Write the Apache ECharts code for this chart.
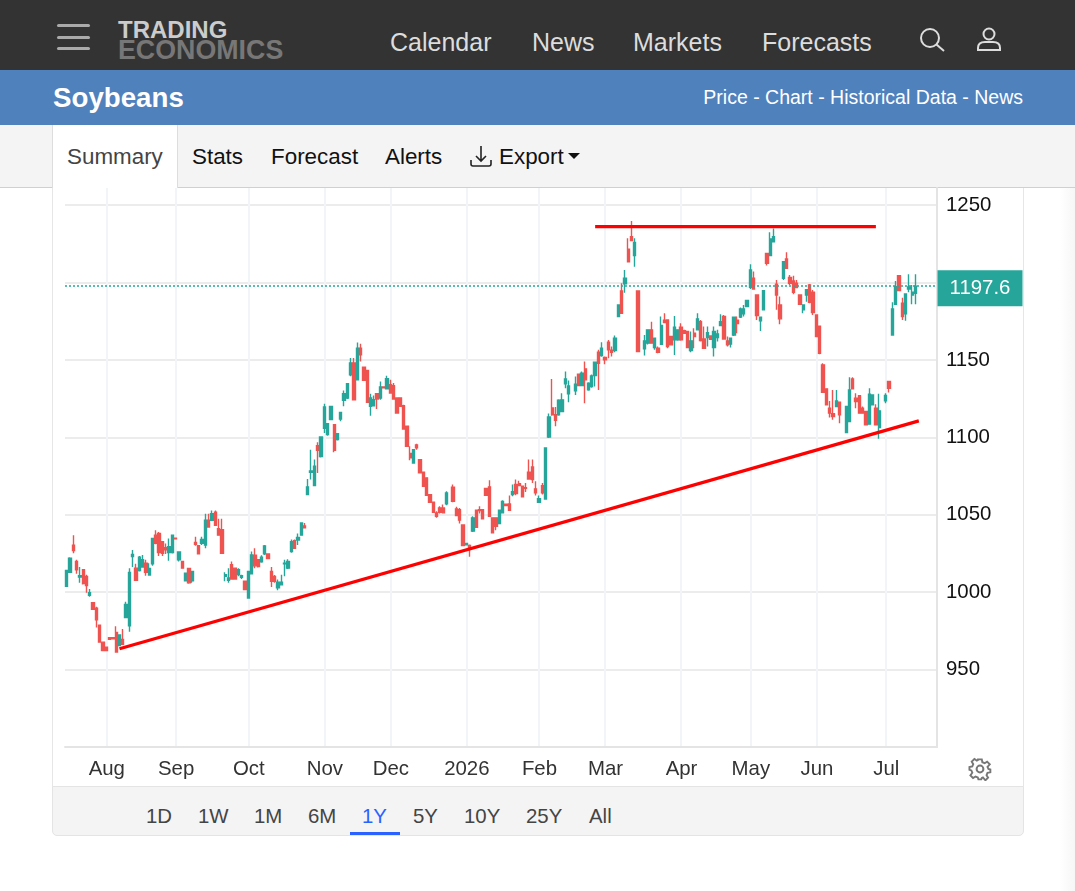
<!DOCTYPE html>
<html><head><meta charset="utf-8"><title>Soybeans</title>
<script src="https://cdn.jsdelivr.net/npm/echarts@6/dist/echarts.min.js"></script>
<style>
html,body{margin:0;padding:0;background:#fff;width:1075px;height:891px;overflow:hidden;font-family:"Liberation Sans",Arial,sans-serif}
.a{position:absolute;white-space:nowrap}
#chart{position:absolute;left:0;top:0;width:1075px;height:891px}
.nav{top:27px;font-size:25px;line-height:30px;color:#ddd}
.tab{top:143px;font-size:22.4px;line-height:28px;color:#111}
.rng{top:804px;font-size:20.4px;line-height:24px;color:#444}
</style></head><body>
<div class="a" style="left:1060px;top:188px;width:15px;height:703px;background:linear-gradient(to right,#fff,#f6f6f6)"></div>
<div class="a" style="left:0;top:0;width:1075px;height:70px;background:#333"></div>
<div class="a" style="left:57px;top:24px;width:33px;height:3px;background:#aaa;border-radius:2px"></div>
<div class="a" style="left:57px;top:36px;width:33px;height:3px;background:#aaa;border-radius:2px"></div>
<div class="a" style="left:57px;top:47px;width:33px;height:3px;background:#aaa;border-radius:2px"></div>
<div class="a" style="left:118px;top:18px;font-size:24px;line-height:24px;font-weight:700;color:#ccc">TRADING</div>
<div class="a" style="left:118px;top:38px;font-size:26.8px;line-height:24px;font-weight:700;color:#777">ECONOMICS</div>
<div class="a nav" style="left:390px">Calendar</div>
<div class="a nav" style="left:532px">News</div>
<div class="a nav" style="left:633px">Markets</div>
<div class="a nav" style="left:762px">Forecasts</div>
<svg class="a" style="left:918px;top:26px" width="30" height="28" viewBox="0 0 30 28" fill="none" stroke="#ddd" stroke-width="2"><circle cx="12" cy="12" r="9"/><line x1="18.5" y1="18.5" x2="26" y2="25"/></svg>
<svg class="a" style="left:975px;top:26px" width="28" height="26" viewBox="0 0 28 26" fill="none" stroke="#ddd" stroke-width="2"><circle cx="14" cy="8" r="5.5"/><path d="M3 24v-2c0-4 3-6 7-6h8c4 0 7 2 7 6v2z"/></svg>
<div class="a" style="left:0;top:70px;width:1075px;height:55px;background:#4f81bd"></div>
<div class="a" style="left:53px;top:82px;font-size:27.7px;line-height:32px;font-weight:700;color:#fff">Soybeans</div>
<div class="a" style="right:52px;top:85px;font-size:19.5px;line-height:24px;color:#fff">Price - Chart - Historical Data - News</div>
<div class="a" style="left:0;top:125px;width:1075px;height:62px;background:#f4f4f4;border-bottom:1px solid #d0d0d0"></div>
<div class="a" style="left:52px;top:125px;width:124px;height:63px;background:#fff;border-left:1px solid #ddd;border-right:1px solid #ddd"></div>
<div class="a tab" style="left:67px;color:#444">Summary</div>
<div class="a tab" style="left:192px">Stats</div>
<div class="a tab" style="left:271px">Forecast</div>
<div class="a tab" style="left:385px">Alerts</div>
<svg class="a" style="left:469px;top:145px" width="24" height="24" viewBox="0 0 24 24" fill="none" stroke="#222" stroke-width="1.6"><path d="M12 1v15M7 11l5 5 5-5M2 15v4q0 2 2 2h16q2 0 2-2v-4"/></svg>
<div class="a tab" style="left:499px">Export</div>
<div class="a" style="left:568px;top:153px;width:0;height:0;border-left:6px solid transparent;border-right:6px solid transparent;border-top:6px solid #111"></div>
<div class="a" style="left:52px;top:188px;width:1px;height:599px;background:#e6e6e6"></div>
<div class="a" style="left:1023px;top:188px;width:1px;height:599px;background:#e6e6e6"></div>
<div class="a" style="left:52px;top:786px;width:970px;height:48px;background:#f4f4f4;border:1px solid #e4e4e4;border-radius:0 0 5px 5px"></div>
<div class="a rng" style="left:146px">1D</div>
<div class="a rng" style="left:198px">1W</div>
<div class="a rng" style="left:254px">1M</div>
<div class="a rng" style="left:308px">6M</div>
<div class="a rng" style="left:362px;color:#2962ff">1Y</div>
<div class="a" style="left:350px;top:832px;width:50px;height:3px;background:#2962ff"></div>
<div class="a rng" style="left:413px">5Y</div>
<div class="a rng" style="left:464px">10Y</div>
<div class="a rng" style="left:526px">25Y</div>
<div class="a rng" style="left:589px">All</div>
<div id="chart"></div>
<svg class="a" style="left:968px;top:757px" width="24" height="24" viewBox="0 0 24 24" fill="none" stroke="#777" stroke-width="2"><circle cx="12" cy="12" r="3.4"/><path d="M10 2h4l.6 3 2.4 1 2.6-1.600 2.800 2.800L20 9.800l1 2.200 2 .6v3l-3 .6-1 2.400 1.600 2.600-2.800 2.800L15.200 21l-1.200.6-.6 1.400h-3l-.6-2-2.400-1-2.600 1.600-2.800-2.800L4 16l-1-2.400-2-.6V10l3-.6 1-2.400L3.400 4.400 6.200 1.600 8.800 3.200 10 2.600z" transform="translate(0.5 0.5) scale(0.95)"/></svg>
<script>
const slotCount = 264;
const tickSlots = [12,33,55,78,98,121,143,163,186,207,227,248];
const tickLabels = ['Aug','Sep','Oct','Nov','Dec','2026','Feb','Mar','Apr','May','Jun','Jul'];
const lastPrice = 1197.6;
const supportLine = [[16,963.5],[258,1110.6]];
const resistanceLine = [[160,1236],[245,1236]];

const opens = [
1003.8,1012.8,1030.4,1019.8,1009.8,1014.5,1010.2,997.9,993.2,989.6,
978.7,967.7,964.5,970.6,970.6,974,965.5,969.4,983.6,978.3,
1023,1015.5,1014,1016.2,1018.7,1011.1,1018.3,1036.8,1037.9,1032.6,
1028.7,1025.5,1025.5,1034.9,1020.9,1019.8,1007.4,1015.3,1007.4,1032.1,
1030,1031.5,1030.4,1046.4,1046.4,1051.7,1040.9,1040.4,1010.2,1007.7,
1017.7,1015.5,1011.3,1009.6,1007,996.2,1011.9,1023.8,1020.9,1019.6,
1024.7,1024.7,1013.4,1010.2,1002.8,1004.7,1018.3,1015.5,1026.2,1033.2,
1033.6,1036.8,1042.8,1063,1077.4,1068.8,1094.6,1087.5,1105.8,1101.7,
1111.4,1108.2,1098.5,1111.8,1123.9,1125.4,1140.4,1148,1137.2,1157.6,
1145.2,1143.2,1120,1120.4,1128.2,1125.4,1132.5,1131.4,1134,1133.3,
1125.4,1125.4,1120.4,1107.1,1089.5,1083.4,1095,1085.6,1077.4,1073.8,
1063,1058.1,1051.2,1054.4,1054.4,1057,null,1067.7,1053.8,1053.3,
1043.4,1030.5,1030.1,1039.4,1052.9,1053.3,1053.3,1066.9,1068,1048,
1048,1044.3,1051.2,1056.8,1057,1063,1069.5,1070.1,1068.4,1067.5,
1077.4,1080.9,1066.7,1058.1,1068.8,1060.2,1100.2,1118.9,1114.6,1114.6,
1116.7,1134.5,1128.1,null,1130,1140.8,1133.4,1144.2,1130.6,1132.8,
1139.9,1154.9,1152.8,1151.5,1161.4,1156.2,1156,1178,1194.5,1199.2,
1221.4,1229.6,1217.3,1194.5,null,1157.1,1160.8,1169.4,1158,1157.5,
1160.1,1175.6,1175.8,1165.1,1162.9,1162.9,1171.1,1168.9,1168.3,1156,
1167.2,1169.4,1174.7,1163.5,1164.4,1165.5,1158,1164.4,1172.2,1178,
1162.3,1160.3,1166.1,1175.6,1177.7,1179.7,1184.4,1196.9,1202.7,1191.9,
1175.2,1182.3,1218.8,1217.3,1226.3,1198.8,1185.5,1202.7,1215.2,1203.3,
1201,1199.5,1191.9,1182.3,1191.9,1198.4,1193.7,1179,1171.7,1146.8,
1131.3,1118.8,1115.2,1119.9,1122.7,null,1103.1,1110.2,1137.7,1125.3,
1126.8,1118.8,1116.7,1108.5,1121,1118.8,1106.3,null,1123.5,1136,
1166.1,1185.9,1204.4,1186.6,1179.7,1195.8,1191.9,1193];

const closes = [
1014,1021.9,1026.8,1014.5,1010.6,1005.5,1004.3,999.6,988.9,982.1,
967.7,962.3,962.3,969.6,969.8,961.3,972.3,966.4,992.1,1012.8,
1024.3,1007.7,1022.6,1020.9,1012.8,1015.3,1034.7,1031.5,1025.5,1025.1,
1027.4,1029.4,1036.8,1034.5,1026,1015.5,1012.3,1006,1013.4,1030.9,
1024.7,1034,1046.4,1042.1,1050.6,1043.2,1036.8,1025.1,1011.3,1009.1,
1008.5,1008.5,1014.5,1010.6,1001.7,1013.4,1024,1017,1016.6,1022.6,
1029.8,1021.7,1007,1007,1006.4,1006.4,1018.7,1019.8,1032.6,1028.3,
1035.3,1044.7,1041.5,1068,1078.3,1081.3,1091.6,1100.2,1119.6,1108.8,
1120,1091.6,1102.4,1116.1,1128.2,1134.6,1148,1124.3,1157.6,1153.3,
1136.8,1122.6,1125.4,1124.3,1124.7,1132.5,1132,1137.8,1128.6,1124.7,
1115.7,1120,1105.4,1094.2,1086.7,1092,1093.3,1077,1068.4,1062.6,
1058.1,1051.6,1049,1051.6,1051.2,1064.1,null,1058.7,1049.5,1046.5,
1030.1,1031.4,1028.8,1048,1041.9,1052.7,1047.3,1062.6,1049,1038.3,
1042.6,1052.9,1058.5,1055.9,1052.9,1064.9,1063.7,1068.8,1061.5,1067.1,
1073.1,1072.7,1064.1,1060.4,1064.1,1093.1,1113.1,1114.6,1111,1123.9,
1124.2,1137.7,1133.2,null,1134.3,1133.4,1141.4,1137.1,1134.9,1139.7,
1148.5,1147.8,1157.5,1150,1156.5,1154.9,1164,1185.5,1180.1,1202.7,
1213.4,1227,1225.9,1155.4,null,1162.3,1169.4,1160.8,1164,1154.9,
1172.2,1174.1,1158.6,1159.7,1171.1,1169.4,1162.9,1167.2,1158,1162.3,
1165.1,1176.5,1162.5,1157.5,1167.6,1163.3,1168.3,1166.8,1174.7,1163.5,
1159.7,1164,1177.5,1173.4,1182.9,1182.9,1188.3,1208.1,1195.8,1178.6,
1177.5,1194.7,1212.4,1228.1,1229.6,1191.9,1176.5,1213.4,1209.1,1199.5,
1193.7,1196.7,1185.9,1185.5,1195.4,1187.2,1180.5,1165.1,1154.3,1129.1,
1121,1115.6,1113.4,1123.5,1114.5,null,1119.9,1130.6,1131.3,1123.1,
1115.6,1115.6,1108.1,1127.8,1127.4,1108.1,1117.1,null,1127,1131.7,
1182.9,1197.3,1194.7,1178,1192.6,1197.1,1193.7,1197.6];

const lows = [
1003.4,1012.8,1025.1,1011.9,1006,1005,999.6,997,988.5,977.2,
967.7,962,962,969.4,969.4,961,965.3,966.2,983.4,974.5,
1016.2,1007.5,1013.4,1016,1010.6,1010.6,1017,1031,1023.4,1023.4,
1024.7,1020.2,1025,1034.3,1019.8,1015.3,1007,1005.5,1006,1030,
1024.5,1030.4,1028.3,1042,1046,1043,1036.6,1024.7,1007,1006,
1008.1,1008.3,1010.2,1008.5,1001.5,996,1011.5,1015.5,1016,1019,
1024,1021.5,1003.4,1006,1001.3,1004.3,1010.2,1015,1025.5,1028,
1030.4,1036.5,1041.3,1062.6,1072.7,1068.6,1077,1087,1102.8,1101,
1111,1090.3,1098,1110.3,1120,1124.7,1139.4,1123.9,1137,1149,
1136.6,1122.4,1114,1120,1118.3,1124.3,1131.8,1131.2,1128.2,1124.3,
1115.5,1119.6,1105,1094,1085.2,1083.2,1092,1076.8,1068,1062.4,
1058,1051.4,1048,1050.8,1051,1056.1,null,1058.1,1049,1044.3,
1030,1030.2,1022.8,1038.9,1041.7,1050.8,1047,1062.4,1048.6,1038,
1040,1044,1051,1055.7,1052.7,1061.9,1062.6,1068.6,1061.3,1064.7,
1072.7,1070.5,1062.4,1058,1063,1060,1099.6,1114,1107.1,1114,
1116.5,1131.7,1122.7,null,1127.4,1133,1133,1122,1130,1132,
1132.8,1130.6,1152,1147.2,1151.1,1152.2,1154.9,1177.8,1179.7,1193.4,
1213,1227,1210.2,1155,null,1152.8,1160,1160.5,1156.5,1154.3,
1159.7,1174,1157.5,1159.5,1153.2,1162.3,1162.3,1167,1157.8,1154.9,
1157.5,1169.2,1161.8,1157.1,1158.6,1163,1152.2,1161.8,1172,1163.3,
1158.6,1158,1165.5,1167.2,1177,1178,1184,1195.8,1195.6,1175.8,
1168.7,1182,1210.9,1217,1226,1182.3,1173,1201.6,1209,1198.4,
1192.4,1196.5,1185.5,1180.1,1187.6,1186.6,1179,1164.9,1153.7,1129,
1120.8,1112.8,1111.3,1119.7,1109.1,null,1103,1110,1131,1118.8,
1115.4,1115.4,1107.9,1108.3,1120.8,1108,1099,null,1122,1128.9,
1166,1185.7,1194.5,1175.8,1175.2,1193.7,1185.9,1185.9];

const highs = [
1014,1022.6,1036.8,1020.9,1016.2,1014.5,1011.3,1002.1,993.6,990.6,
978.7,968.1,964.7,970.8,970.8,977.9,972.3,976.2,993.8,1015.5,
1027.2,1018.3,1023.4,1024,1020.9,1018.7,1034.7,1040,1038.9,1033,
1031.5,1034.7,1036.8,1035,1026,1020,1012.3,1015.5,1013.6,1035.7,
1030.2,1035.7,1050.6,1050.6,1052.8,1052.8,1047.4,1047.4,1012.8,1015.5,
1019.8,1015.7,1015.5,1011.3,1007.2,1013.4,1026.2,1028.3,1021,1023.8,
1030.4,1025,1016.2,1011,1008.1,1011.3,1020.9,1021.3,1034,1034,
1037.9,1045,1044.7,1073.1,1092,1085.6,1096.8,1100.4,1121.7,1109,
1120.2,1108.4,1102.6,1116.3,1130.3,1135.1,1151.2,1151.2,1161.3,1160.4,
1145.4,1143.4,1128.2,1127,1128.6,1136.1,1132.7,1139.8,1137.2,1135.1,
1125.6,1125.6,1121,1107.3,1094.2,1092.2,1095.9,1085.8,1077.6,1074,
1063.2,1058.3,1052.3,1055.5,1056.6,1065.2,null,1069.5,1055.1,1054.4,
1043.6,1031.8,1030.8,1049,1053.1,1055.5,1053.5,1067.1,1072.3,1048.2,
1048.2,1053.1,1059.4,1057,1062.4,1069.5,1072.7,1072,1068.6,1070.5,
1085.6,1085.6,1071.6,1062.4,1070.5,1093.3,1115.3,1137.6,1119.6,1124.5,
1128.5,1142.5,1136.7,null,1139.2,1141,1142.5,1148.9,1135.5,1140.5,
1148.9,1156.5,1161.4,1152.2,1162.9,1158.6,1165.7,1185.7,1199.5,1208.1,
1228.5,1239.7,1228.5,1194.7,null,1166.1,1169.6,1174.7,1164.2,1158.6,
1178,1180.1,1176,1165.3,1178.4,1169.6,1173.7,1169.5,1168.5,1168.3,
1170.4,1180.1,1175.8,1171.5,1171.5,1165.8,1171.5,1169.4,1179.5,1179,
1165.1,1164.4,1178,1178,1183.8,1185.5,1188.7,1211.7,1207,1192.1,
1178,1195.1,1219,1232.4,1234.9,1201.6,1190.9,1213.6,1219.5,1204.8,
1204.4,1201.6,1192.4,1185.7,1195.8,1199,1195.2,1179.2,1171.9,1147.8,
1131.5,1123.5,1130.6,1130.6,1123.1,null,1120.3,1138.8,1138.8,1128.5,
1127,1119.9,1117,1131.7,1127.6,1121.4,1128.1,null,1128.5,1136.2,
1187.2,1201,1204.6,1190.2,1193,1205.3,1198.4,1205.3];

const categories = Array.from({length: slotCount}, (_, i) => {
  const k = tickSlots.indexOf(i);
  return k >= 0 ? tickLabels[k] : String(i);
});
const candles = opens.map((o, i) => o === null ? '-' : [o, closes[i], lows[i], highs[i]]);
const up = '#26a69a', down = '#ef5350';
const isTick = i => tickSlots.indexOf(i) >= 0;
const chart = echarts.init(document.getElementById('chart'), null, {width:1075, height:891});
chart.setOption({
  animation:false,
  backgroundColor:'transparent',
  textStyle:{fontFamily:'"Liberation Sans",Arial,sans-serif'},
  grid:{left:65,right:138,top:188,bottom:144,containLabel:false},
  xAxis:{type:'category',data:categories,boundaryGap:true,
    axisLine:{show:true,lineStyle:{color:'#e4e4e4',width:2}},
    axisTick:{show:false,alignWithLabel:true},
    axisLabel:{interval:isTick,fontSize:20.4,color:'#333',margin:12,hideOverlap:false,padding:[0,0,0,1]},
    splitLine:{show:true,alignWithLabel:true,interval:isTick,lineStyle:{color:'#f2f5f8',width:2}}},
  yAxis:{type:'value',position:'right',min:900,max:1261,interval:50,
    axisLine:{show:true,lineStyle:{color:'#e4e4e4',width:2}},
    axisTick:{show:false},
    axisLabel:{fontSize:20.4,color:'#111',margin:9,
      formatter:v => (v % 50 === 0 && v > 900) ? String(v) : ''},
    splitLine:{show:true,showMinLine:false,showMaxLine:false,lineStyle:{color:'#ececec',width:2}}},
  series:[
    {type:'candlestick',data:candles,barWidth:2.8,large:false,progressive:0,
     itemStyle:{color:up,color0:down,borderColor:up,borderColor0:down,borderWidth:1.4},
     markLine:{silent:true,symbol:'none',animation:false,
       lineStyle:{color:up,type:[2,2],width:1.5},
       label:{position:'end',distance:0,offset:[43,2],formatter:String(lastPrice),backgroundColor:up,color:'#fff',fontSize:20.4,
         width:85,height:36,lineHeight:36,align:'center',verticalAlign:'middle',padding:0},
       data:[{yAxis:lastPrice}]}},
    {type:'line',data:supportLine,symbol:'none',silent:true,z:5,lineStyle:{color:'#ff0000',width:3.2}},
    {type:'line',data:resistanceLine,symbol:'none',silent:true,z:5,lineStyle:{color:'#ff0000',width:3.2}}
  ]
});
</script>
</body></html>
